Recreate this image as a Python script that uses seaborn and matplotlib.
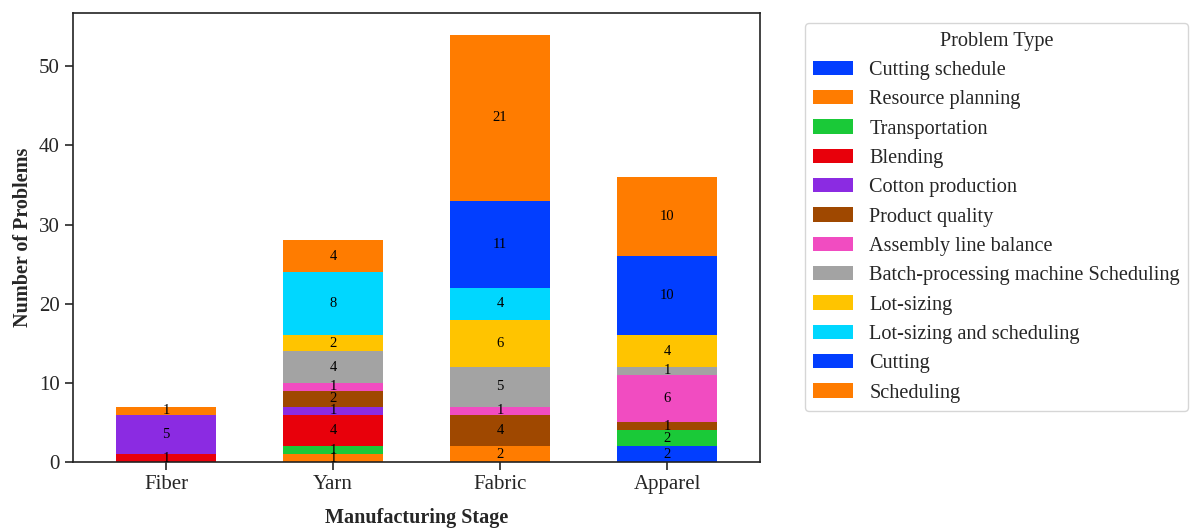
import matplotlib
matplotlib.use("Agg")
import matplotlib.pyplot as plt
import numpy as np
import pandas as pd
import seaborn as sns

stages = ["Fiber", "Yarn", "Fabric", "Apparel"]
problem_types = [
    "Cutting schedule",
    "Resource planning",
    "Transportation",
    "Blending",
    "Cotton production",
    "Product quality",
    "Assembly line balance",
    "Batch-processing machine Scheduling",
    "Lot-sizing",
    "Lot-sizing and scheduling",
    "Cutting",
    "Scheduling",
]
# counts per stage: Fiber, Yarn, Fabric, Apparel
cutting_schedule = [0, 0, 0, 2]
resource_planning = [0, 1, 2, 0]
transportation = [0, 1, 0, 2]
blending = [1, 4, 0, 0]
cotton_production = [5, 1, 0, 0]
product_quality = [0, 2, 4, 1]
assembly_line_balance = [0, 1, 1, 6]
batch_processing = [0, 4, 5, 1]
lot_sizing = [0, 2, 6, 4]
lot_sizing_scheduling = [0, 8, 4, 0]
cutting = [0, 0, 11, 10]
scheduling = [1, 4, 21, 10]

counts = [cutting_schedule, resource_planning, transportation, blending,
          cotton_production, product_quality, assembly_line_balance,
          batch_processing, lot_sizing, lot_sizing_scheduling, cutting, scheduling]

sns.set_style("white")
plt.rcParams["font.family"] = ["Liberation Serif", "DejaVu Serif"]

palette = sns.color_palette("bright", 10)
colors = [palette[i % 10] for i in range(len(problem_types))]

fig = plt.figure(figsize=(11.92, 5.30), dpi=100)
ax = fig.add_axes([0.0612, 0.1283, 0.5764, 0.8466])

bottom = np.zeros(len(stages))
for name, vals, col in zip(problem_types, counts, colors):
    vals = np.array(vals, dtype=float)
    df = pd.DataFrame({"Stage": stages, "Count": vals})
    sns.barplot(data=df, x="Stage", y="Count", bottom=bottom, color=col,
                width=0.6, ax=ax, label=name, saturation=1, linewidth=0)
    for i, v in enumerate(vals):
        if v > 0:
            ax.text(i, bottom[i] + v / 2, f"{int(v)}", ha="center", va="center",
                    fontsize=10.5, color="black")
    bottom = bottom + vals

ax.set_xlim(-0.557, 3.557)
ax.set_ylim(0, 56.7)
ax.set_xlabel("Manufacturing Stage", fontsize=14.5, fontweight="bold", labelpad=10)
ax.set_ylabel("Number of Problems", fontsize=14.5, fontweight="bold", labelpad=4)
ax.tick_params(axis="both", labelsize=15, length=6, width=1.2, bottom=True, left=True)
for s in ax.spines.values():
    s.set_linewidth(1.2)
    s.set_color("#222222")

ax.legend(title="Problem Type", bbox_to_anchor=(1.05, 1), loc="upper left",
          fontsize=14.6, title_fontsize=14.6, labelspacing=0.5)

fig.savefig("out.png", dpi=100)
